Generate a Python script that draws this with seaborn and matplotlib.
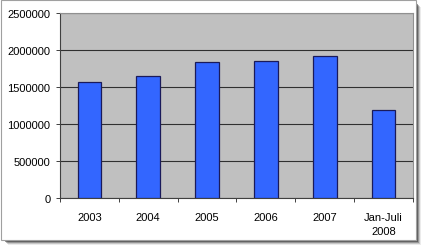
import matplotlib
matplotlib.use("Agg")
import matplotlib.pyplot as plt
import seaborn as sns
import pandas as pd
from matplotlib.patches import Rectangle
from matplotlib.ticker import FixedLocator

categories = ["2003", "2004", "2005", "2006", "2007", "Jan-Juli\n2008"]
values = [1568000, 1653000, 1842000, 1855000, 1915000, 1193000]
y_ticks = [0, 500000, 1000000, 1500000, 2000000, 2500000]

sns.set_theme(style="white")
plt.rcParams["font.family"] = ["Liberation Sans", "DejaVu Sans"]

W, H = 424, 251
fig = plt.figure(figsize=(W / 100, H / 100), dpi=100)
fig.patch.set_facecolor("white")

def fx(x): return x / W
def fy(y): return 1 - y / H

# frame shadow and border
for i, a in enumerate([0.15, 0.3, 0.5, 0.8]):
    off = 4 - i
    fig.patches.append(Rectangle((fx(4 + off), fy(242 + off)), fx(413), (242 + off - 4) / H - off / H,
                                 transform=fig.transFigure, facecolor=(0.15, 0.15, 0.15, a * 0.6),
                                 edgecolor="none", zorder=-3))
fig.patches.append(Rectangle((fx(1), fy(241)), fx(415), (241 - 1) / H, transform=fig.transFigure,
                             facecolor="white", edgecolor="#A0A0A0", linewidth=0.8, zorder=-2))

ax = fig.add_axes([60 / W, 1 - 199 / H, (413 - 60) / W, (199 - 14) / H])
df = pd.DataFrame({"cat": categories, "val": values})
sns.barplot(data=df, x="cat", y="val", ax=ax, color="#3366FF", width=0.4,
            edgecolor="#1a1a5a", linewidth=0.9, saturation=1, zorder=3)
ax.set_facecolor("#C0C0C0")
ax.set_xlim(-0.5, len(categories) - 0.5)
ax.set_ylim(0, 2500000)
ax.set_yticks(y_ticks)
ax.set_yticklabels([str(v) for v in y_ticks], fontsize=8, color="black")
ax.yaxis.grid(True, color="#303030", linewidth=0.8, zorder=0)
ax.set_axisbelow(True)
ax.set_xlabel("")
ax.set_ylabel("")
ax.tick_params(axis="x", which="major", length=0, pad=10, labelsize=8, labelcolor="black")
for lbl in ax.get_xticklabels():
    lbl.set_linespacing(1.5)
ax.xaxis.set_minor_locator(FixedLocator([i + 0.5 for i in range(-1, len(categories))]))
ax.tick_params(axis="x", which="minor", length=3, width=0.7, color="#404040", direction="out", bottom=True)
ax.tick_params(axis="y", length=3, width=0.7, color="#404040", direction="out", left=True, pad=4)
for s in ["top", "right"]:
    ax.spines[s].set_color("#909090")
    ax.spines[s].set_linewidth(0.8)
for s in ["left", "bottom"]:
    ax.spines[s].set_color("#404040")
    ax.spines[s].set_linewidth(0.8)

fig.savefig("out.png", dpi=100)
